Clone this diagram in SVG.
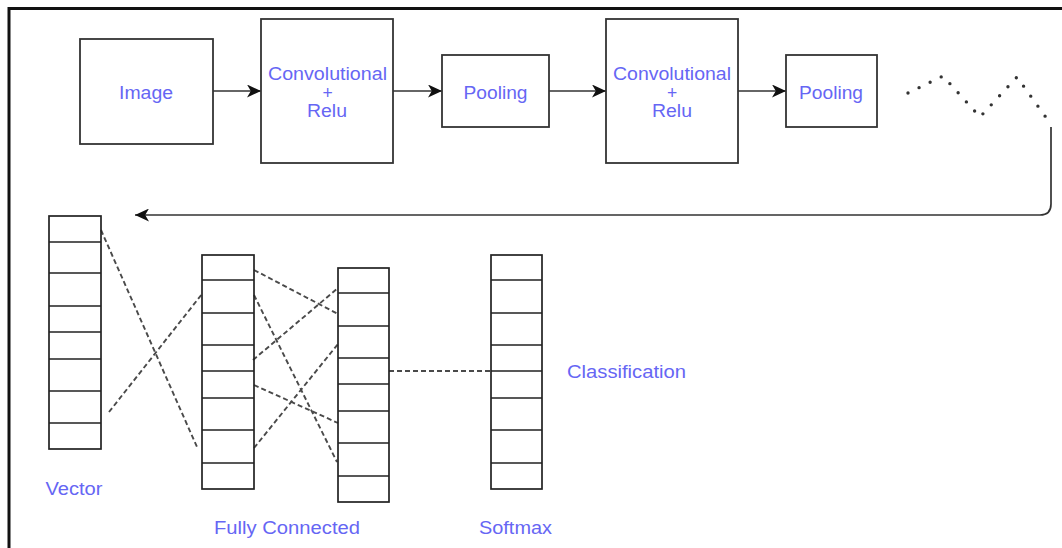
<svg xmlns="http://www.w3.org/2000/svg" width="1062" height="548" viewBox="0 0 1062 548">
  <style>
    .box { fill: #ffffff; stroke: #333333; stroke-width: 1.8; }
    .cell { fill: none; stroke: #222222; stroke-width: 1.7; }
    .lbl { font-family: "Liberation Sans", Arial, sans-serif; font-size: 17.5px; fill: #6666f4; }
    .arrow { fill: none; stroke: #333333; stroke-width: 1.7; }
    .dash { fill: none; stroke: #4a4a4a; stroke-width: 1.9; stroke-dasharray: 5 3; }
    .dots { fill: none; stroke: #333333; stroke-width: 3.4; stroke-linecap: round; stroke-dasharray: 0 12.3; }
  </style>
  <defs>
    <marker id="arr" markerUnits="userSpaceOnUse" markerWidth="15" markerHeight="13" viewBox="0 0 15 13" refX="14" refY="6.5" orient="auto">
      <path d="M0,0 L14,6.5 L0,13 L3.8,6.5 Z" fill="#111111"/>
    </marker>
  </defs>

  <rect x="0" y="0" width="1062" height="548" fill="#ffffff"/>
  <g id="frame">
    <path d="M9,560 V8.5 H1070" fill="none" stroke="#111111" stroke-width="3"/>
  </g>

  <g id="connectors">
    <line class="arrow" x1="213" y1="91" x2="261" y2="91" marker-end="url(#arr)"/>
    <line class="arrow" x1="393" y1="91" x2="442" y2="91" marker-end="url(#arr)"/>
    <line class="arrow" x1="549" y1="91" x2="606" y2="91" marker-end="url(#arr)"/>
    <line class="arrow" x1="738" y1="91" x2="786" y2="91" marker-end="url(#arr)"/>
    <polyline class="dots" points="908,93 943,76 980,117 1017,77 1050,123"/>
    <path class="arrow" d="M1051,127 V204 Q1051,215 1040,215 H135" marker-end="url(#arr)" stroke="#555555"/>
    <line class="dash" x1="101" y1="230" x2="197" y2="447"/>
    <line class="dash" x1="109" y1="412" x2="202" y2="294"/>
    <line class="dash" x1="254" y1="270" x2="338" y2="314"/>
    <line class="dash" x1="254" y1="295" x2="337" y2="462"/>
    <line class="dash" x1="253" y1="360" x2="338" y2="288"/>
    <line class="dash" x1="254" y1="385" x2="338" y2="423"/>
    <line class="dash" x1="254" y1="448" x2="338" y2="344"/>
    <line class="dash" x1="389" y1="371" x2="491" y2="371"/>
  </g>

  <g id="image">
    <rect class="box" x="80" y="39" width="133" height="105"/>
    <text class="lbl" x="146" y="98.5" text-anchor="middle" textLength="54" lengthAdjust="spacingAndGlyphs">Image</text>
  </g>
  <g id="conv1">
    <rect class="box" x="261" y="19" width="132" height="144"/>
    <text class="lbl" x="327.5" y="80" text-anchor="middle" textLength="119" lengthAdjust="spacingAndGlyphs">Convolutional</text>
    <text class="lbl" x="327.5" y="98.5" text-anchor="middle" font-size="14">+</text>
    <text class="lbl" x="327" y="116.5" text-anchor="middle" textLength="40" lengthAdjust="spacingAndGlyphs">Relu</text>
  </g>
  <g id="pool1">
    <rect class="box" x="442" y="55" width="107" height="72"/>
    <text class="lbl" x="495.5" y="98.5" text-anchor="middle" textLength="64" lengthAdjust="spacingAndGlyphs">Pooling</text>
  </g>
  <g id="conv2">
    <rect class="box" x="606" y="19" width="132" height="144"/>
    <text class="lbl" x="672" y="80" text-anchor="middle" textLength="118" lengthAdjust="spacingAndGlyphs">Convolutional</text>
    <text class="lbl" x="672" y="98.5" text-anchor="middle" font-size="14">+</text>
    <text class="lbl" x="672" y="116.5" text-anchor="middle" textLength="40" lengthAdjust="spacingAndGlyphs">Relu</text>
  </g>
  <g id="pool2">
    <rect class="box" x="786" y="55" width="91" height="72"/>
    <text class="lbl" x="831" y="98.5" text-anchor="middle" textLength="64" lengthAdjust="spacingAndGlyphs">Pooling</text>
  </g>

  <g id="vector">
    <rect class="cell" x="49" y="216" width="52" height="233" fill="#ffffff"/>
    <path class="cell" d="M49,242 H101 M49,273 H101 M49,306 H101 M49,332 H101 M49,359 H101 M49,391 H101 M49,423 H101"/>
    <text class="lbl" x="45.5" y="495" textLength="57" lengthAdjust="spacingAndGlyphs">Vector</text>
  </g>
  <g id="fc1">
    <rect class="cell" x="202" y="255" width="52" height="234"/>
    <path class="cell" d="M202,280 H254 M202,313 H254 M202,345 H254 M202,371 H254 M202,398 H254 M202,430 H254 M202,463 H254"/>
  </g>
  <g id="fc2">
    <rect class="cell" x="338" y="268" width="51" height="234"/>
    <path class="cell" d="M338,293 H389 M338,326 H389 M338,358 H389 M338,384 H389 M338,411 H389 M338,443 H389 M338,476 H389"/>
  </g>
  <g id="fc-label">
    <text class="lbl" x="214" y="534" textLength="146" lengthAdjust="spacingAndGlyphs">Fully Connected</text>
  </g>
  <g id="softmax">
    <rect class="cell" x="491" y="255" width="51" height="234"/>
    <path class="cell" d="M491,280 H542 M491,313 H542 M491,345 H542 M491,371 H542 M491,398 H542 M491,430 H542 M491,463 H542"/>
    <text class="lbl" x="479" y="534" textLength="73" lengthAdjust="spacingAndGlyphs">Softmax</text>
  </g>
  <g id="classification">
    <text class="lbl" x="567" y="377.5" textLength="119" lengthAdjust="spacingAndGlyphs">Classification</text>
  </g>
</svg>
